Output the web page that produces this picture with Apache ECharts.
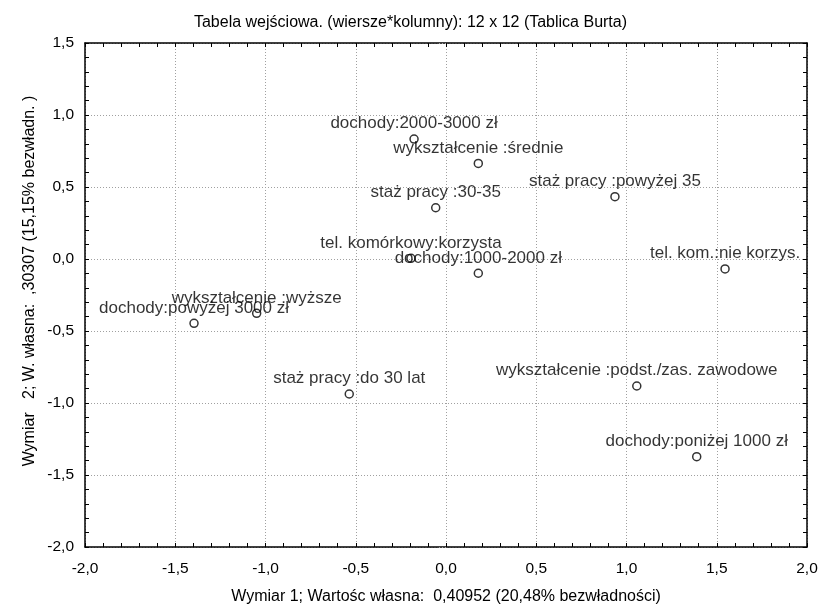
<!DOCTYPE html>
<html>
<head>
<meta charset="utf-8">
<script src="https://cdn.jsdelivr.net/npm/echarts@6/dist/echarts.min.js"></script>
<style>
html,body{margin:0;padding:0;background:#fff;}
#chart{width:821px;height:610px;}
</style>
</head>
<body>
<div id="chart"></div>
<script>
const labels = [
  "dochody:2000-3000 zł",
  "wykształcenie :średnie",
  "staż pracy :30-35",
  "staż pracy :powyżej 35",
  "tel. komórkowy:korzysta",
  "dochody:1000-2000 zł",
  "tel. kom.:nie korzys.",
  "wykształcenie :wyższe",
  "dochody:powyżej 3000 zł",
  "staż pracy :do 30 lat",
  "wykształcenie :podst./zas. zawodowe",
  "dochody:poniżej 1000 zł"
];
const dim1 = [-0.177, 0.179, -0.057, 0.936, -0.194, 0.179, 1.546, -1.049, -1.396, -0.536, 1.057, 1.389];
const dim2 = [0.833, 0.664, 0.356, 0.433, 0.005, -0.099, -0.069, -0.377, -0.447, -0.9375, -0.882, -1.373];

const xMin = -2.0, xMax = 2.0, xStep = 0.5;
const yMin = -2.0, yMax = 1.5, yStep = 0.5;

const titleText = "Tabela wejściowa. (wiersze*kolumny): 12 x 12 (Tablica Burta)";
const xTitle = "Wymiar 1; Wartośc własna:  0,40952 (20,48% bezwładności)";
const yTitle = "Wymiar   2; W. własna:  ,30307 (15,15% bezwładn. )";

const FONT = "'Liberation Sans', Arial, sans-serif";
const fmt = v => v.toFixed(1).replace('.', ',');

const data = labels.map((n, i) => [dim1[i], dim2[i], n]);

const tickCommon = {
  axisTick: {show: true, inside: true, length: 4, lineStyle: {color: '#000', width: 1}},
  minorTick: {show: true, splitNumber: 5, length: 4, lineStyle: {color: '#000', width: 1}},
  axisLine: {show: true, onZero: false, lineStyle: {color: '#000', width: 1.5}}
};

const chart = echarts.init(document.getElementById('chart'), null, {renderer: 'canvas'});
chart.setOption({
  animation: false,
  backgroundColor: '#fff',
  title: {
    text: titleText, left: 'center', top: 10,
    textStyle: {fontFamily: FONT, fontSize: 16, fontWeight: 'normal', color: '#000'}
  },
  grid: {left: 85, right: 14, top: 43, bottom: 63, containLabel: false},
  xAxis: [
    Object.assign({
      type: 'value', position: 'bottom', min: xMin, max: xMax, interval: xStep,
      name: xTitle, nameLocation: 'middle', nameGap: 42,
      nameTextStyle: {fontFamily: FONT, fontSize: 16, color: '#000'},
      axisLabel: {formatter: fmt, margin: 14, fontFamily: FONT, fontSize: 15.5, color: '#000'},
      splitLine: {show: true, lineStyle: {color: '#a0a0a0', type: [1, 2], width: 1}}
    }, tickCommon),
    Object.assign({
      type: 'value', position: 'top', min: xMin, max: xMax, interval: xStep,
      axisLabel: {show: false}, splitLine: {show: false}
    }, tickCommon)
  ],
  yAxis: [
    Object.assign({
      type: 'value', position: 'left', min: yMin, max: yMax, interval: yStep,
      axisLabel: {formatter: fmt, margin: 11, fontFamily: FONT, fontSize: 15.5, color: '#000'},
      splitLine: {show: true, lineStyle: {color: '#a0a0a0', type: [1, 2], width: 1}}
    }, tickCommon),
    Object.assign({
      type: 'value', position: 'right', min: yMin, max: yMax, interval: yStep,
      axisLabel: {show: false}, splitLine: {show: false}
    }, tickCommon),
    {
      type: 'value', position: 'left', min: yMin, max: yMax, interval: yStep,
      name: yTitle, nameLocation: 'middle', nameGap: 47, nameRotate: 90,
      nameTextStyle: {fontFamily: FONT, fontSize: 16, color: '#000', padding: [0, 0, 0, 28]},
      axisLine: {show: false},
      axisLabel: {show: false},
      splitLine: {show: false},
      axisTick: {show: true, inside: false, length: 8, lineStyle: {color: '#a0a0a0', type: [1, 2], width: 1}}
    }
  ],
  series: [{
    type: 'scatter',
    xAxisIndex: 0, yAxisIndex: 0,
    data: data,
    symbol: 'circle',
    symbolSize: 8,
    itemStyle: {color: 'rgba(0,0,0,0)', borderColor: '#000', borderWidth: 1.5},
    label: {
      show: true, position: 'top', distance: 2,
      formatter: p => p.data[2],
      fontFamily: FONT, fontSize: 17, color: '#000'
    },
    emphasis: {disabled: true}
  }]
});
</script>
</body>
</html>
